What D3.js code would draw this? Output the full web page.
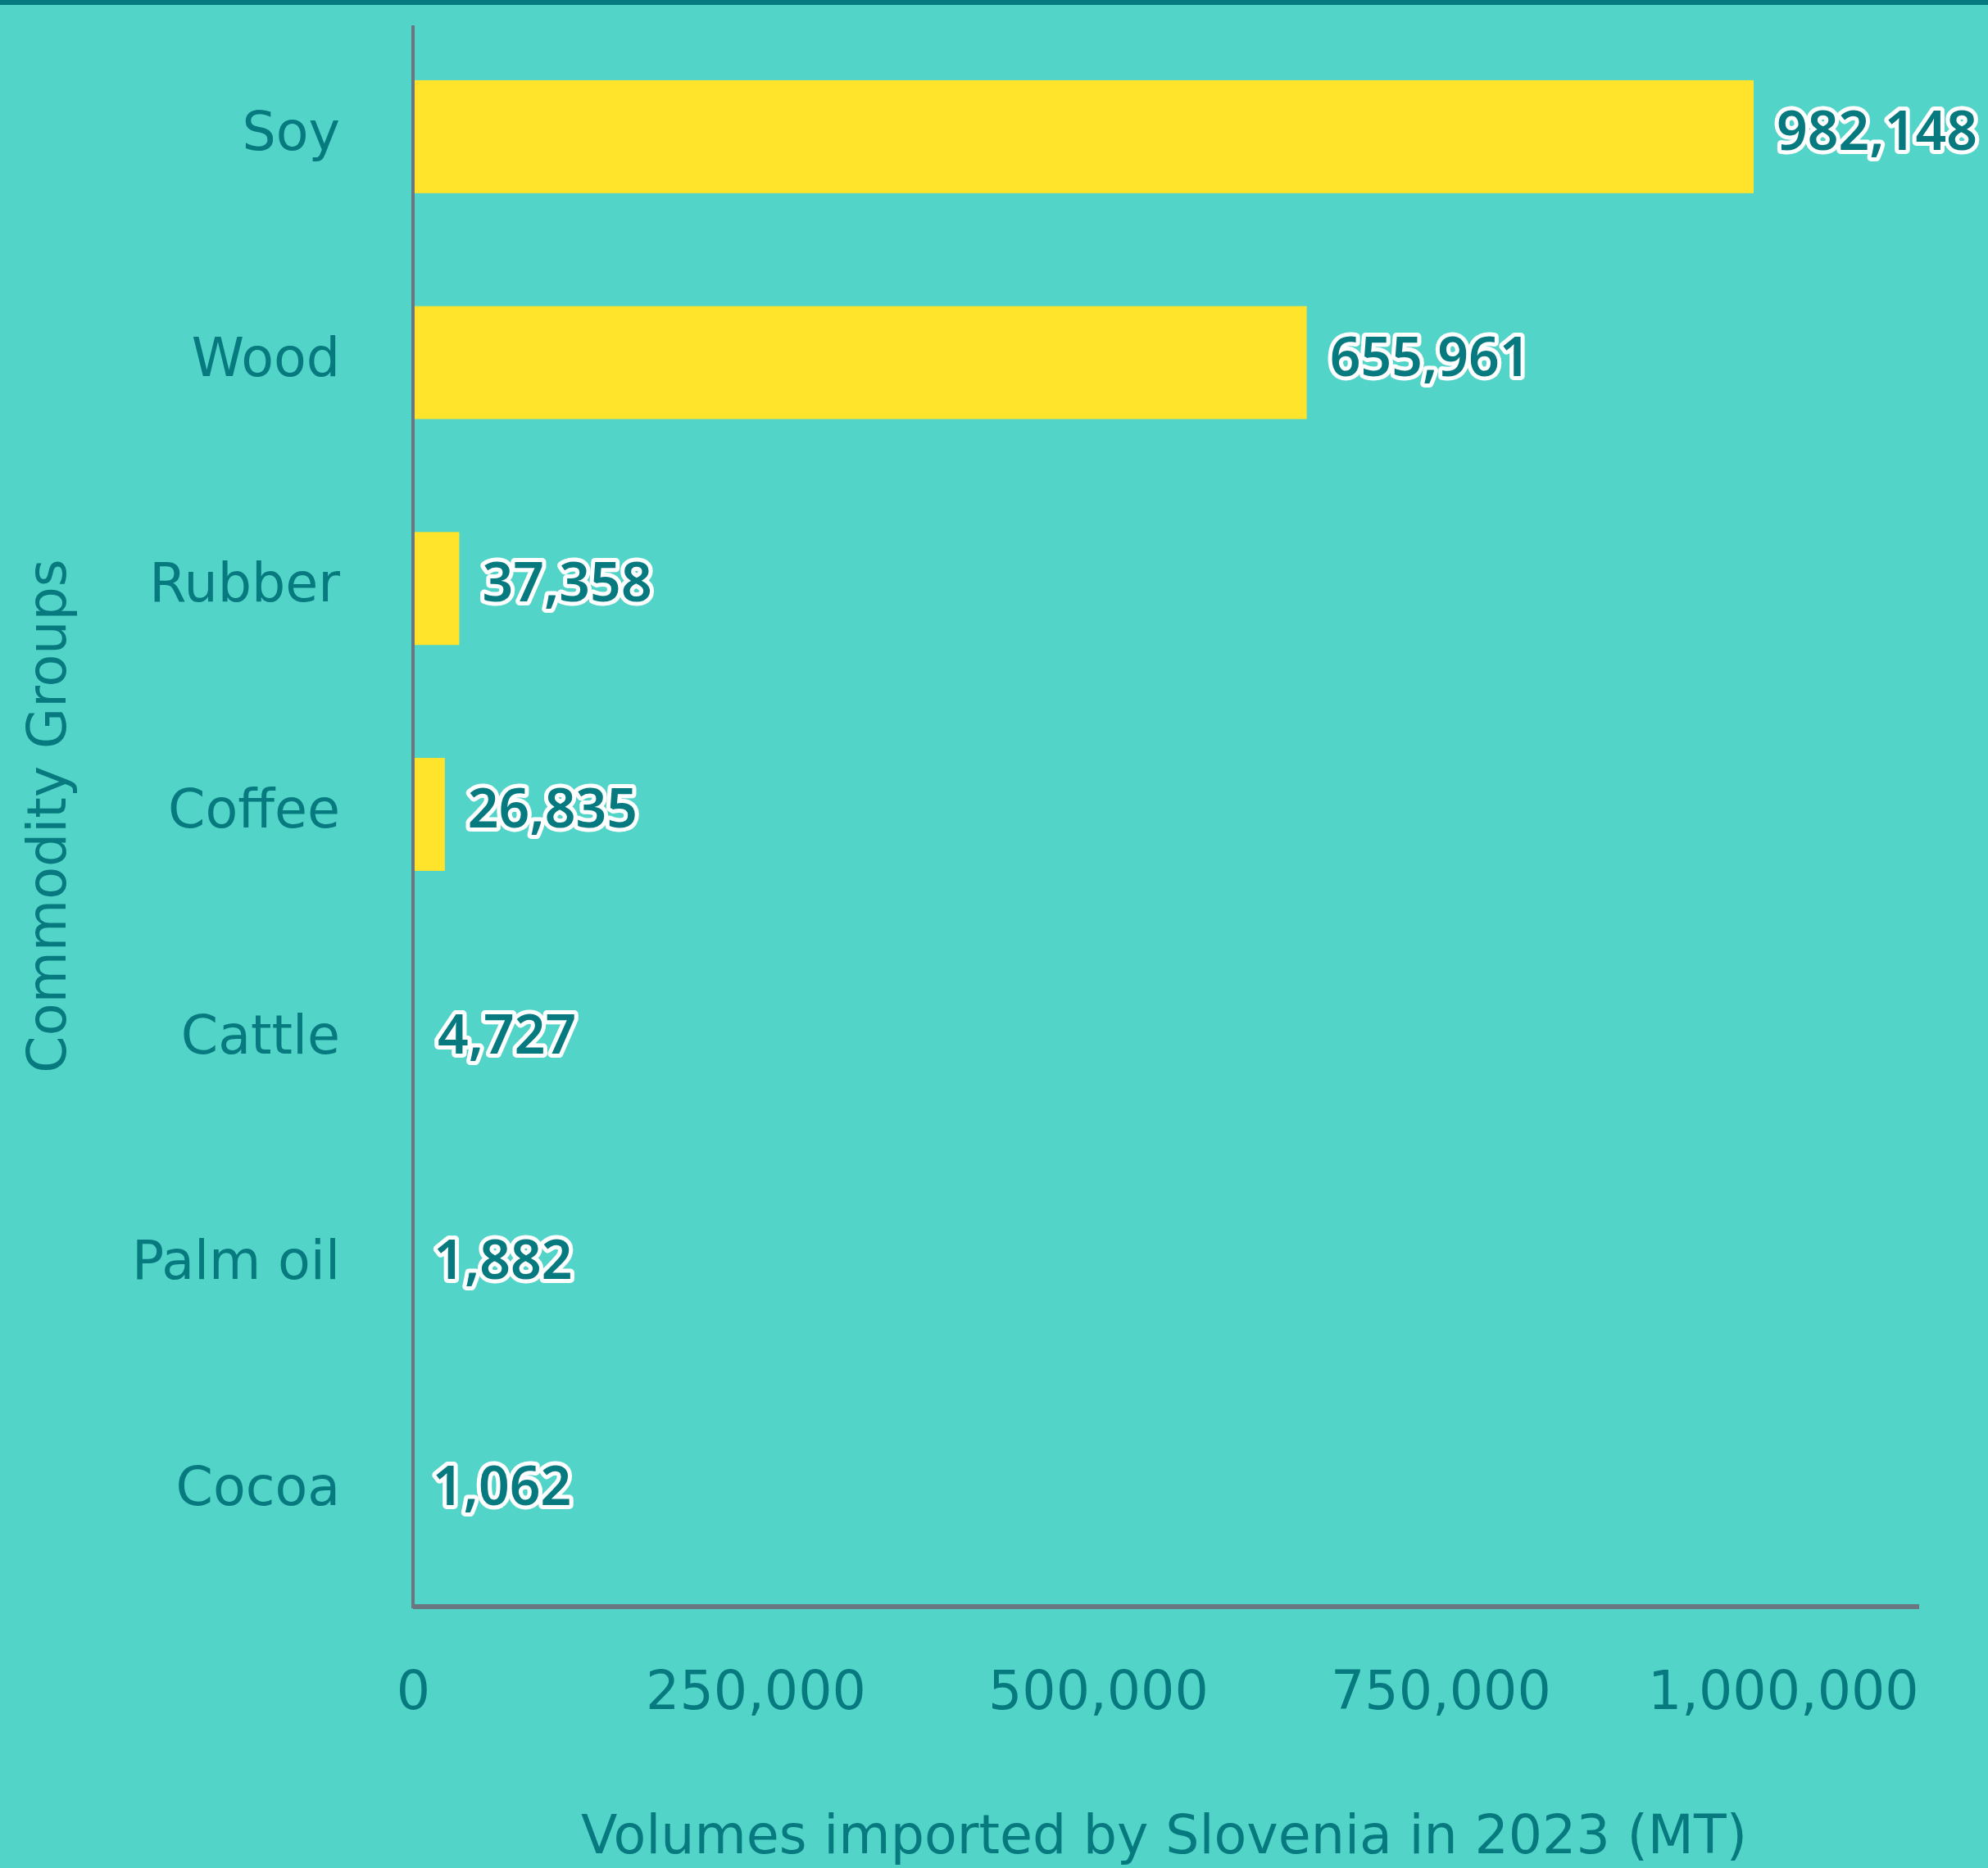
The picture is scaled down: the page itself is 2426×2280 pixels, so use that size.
<!DOCTYPE html>
<html>
<head>
<meta charset="utf-8">
<script src="https://cdn.jsdelivr.net/npm/d3@7"></script>
<style>
  html, body { margin: 0; padding: 0; background: #52d5c8; }
  svg { display: block; }
</style>
</head>
<body>
<svg id="chart"></svg>
<script>
'use strict';

// data
var categories = ['Soy', 'Wood', 'Rubber', 'Coffee', 'Cattle', 'Palm oil', 'Cocoa']
var volumes = [982148, 655961, 37358, 26835, 4727, 1882, 1062]
var xTicks = [0, 250000, 500000, 750000, 1000000]
var xTitle = 'Volumes imported by Slovenia in 2023 (MT)'
var yTitle = 'Commodity Groups'

var W = 2426, H = 2280
var bg = '#52d5c8', teal = '#077a80', barColor = '#ffe42b', axisColor = '#6b7780'
var font = '"DejaVu Sans", "Open Sans", sans-serif'

var svg = d3.select('#chart').attr('width', W).attr('height', H)

svg.append('rect').attr('width', W).attr('height', H).attr('fill', bg)
svg.append('rect').attr('width', W).attr('height', 6).attr('fill', '#067880')

var x = d3.scaleLinear().domain([0, 1100000]).range([498, 2337])
var y = d3.scaleBand().domain(categories).range([31, 1961])
    .paddingInner(0.5).paddingOuter(0.25)

var rows = categories.map(function(c, i) { return { name: c, value: volumes[i] } })
var x0 = x(0) + 6 // where the y axis line sits

// bars, clipped so nothing shows left of the axis line
svg.append('clipPath').attr('id', 'plotclip')
    .append('rect').attr('x', x0).attr('y', 0).attr('width', W).attr('height', H)

svg.append('g').attr('clip-path', 'url(#plotclip)').selectAll('rect')
    .data(rows).enter().append('rect')
    .attr('x', x(0))
    .attr('y', function(d) { return y(d.name) - 2 })
    .attr('width', function(d) { return x(d.value) - x(0) })
    .attr('height', y.bandwidth())
    .attr('fill', barColor)

// axis lines
svg.append('line')
    .attr('x1', x0).attr('x2', x0)
    .attr('y1', y.range()[0]).attr('y2', y.range()[1] + 2)
    .style('stroke', axisColor).style('stroke-width', 4)
svg.append('line')
    .attr('x1', x0).attr('x2', x.range()[1] + 5)
    .attr('y1', y.range()[1]).attr('y2', y.range()[1])
    .style('stroke', axisColor).style('stroke-width', 6)

// category labels
svg.append('g').selectAll('text')
    .data(rows).enter().append('text')
    .attr('x', 415)
    .attr('y', function(d) { return y(d.name) + y.bandwidth() / 2 + 14 })
    .attr('text-anchor', 'end')
    .style('font-family', font).style('font-size', '65px')
    .style('fill', teal)
    .text(function(d) { return d.name })

// value labels
svg.append('g').selectAll('text')
    .data(rows).enter().append('text')
    .attr('x', function(d) { return x(d.value) + 28 })
    .attr('y', function(d) { return y(d.name) + y.bandwidth() / 2 + 14 })
    .style('font-family', '"Noto Sans", sans-serif').style('font-weight', 600)
    .style('font-size', '66px')
    .style('fill', teal).style('stroke', '#ffffff').style('stroke-width', 10)
    .style('stroke-linejoin', 'round').style('paint-order', 'stroke')
    .text(function(d) { return d3.format(',')(d.value) })

// x axis ticks
var xAxis = d3.axisBottom(x).tickValues(xTicks).tickSize(0).tickPadding(0)
    .tickFormat(d3.format(','))
var gx = svg.append('g').attr('transform', 'translate(6,' + 2086 + ')').call(xAxis)
gx.select('.domain').remove()
gx.selectAll('text')
    .attr('dy', 0).attr('y', 0)
    .style('font-family', font).style('font-size', '65px')
    .style('fill', teal)

// axis titles
svg.append('text')
    .attr('x', (x0 + x.range()[1]) / 2).attr('y', 2262)
    .attr('text-anchor', 'middle')
    .style('font-family', font).style('font-size', '65px').style('fill', teal)
    .text(xTitle)

svg.append('text')
    .attr('transform', 'translate(80,' + (y.range()[0] + y.range()[1]) / 2 + ') rotate(-90)')
    .attr('text-anchor', 'middle')
    .style('font-family', font).style('font-size', '65px').style('fill', teal)
    .text(yTitle)
</script>
</body>
</html>
